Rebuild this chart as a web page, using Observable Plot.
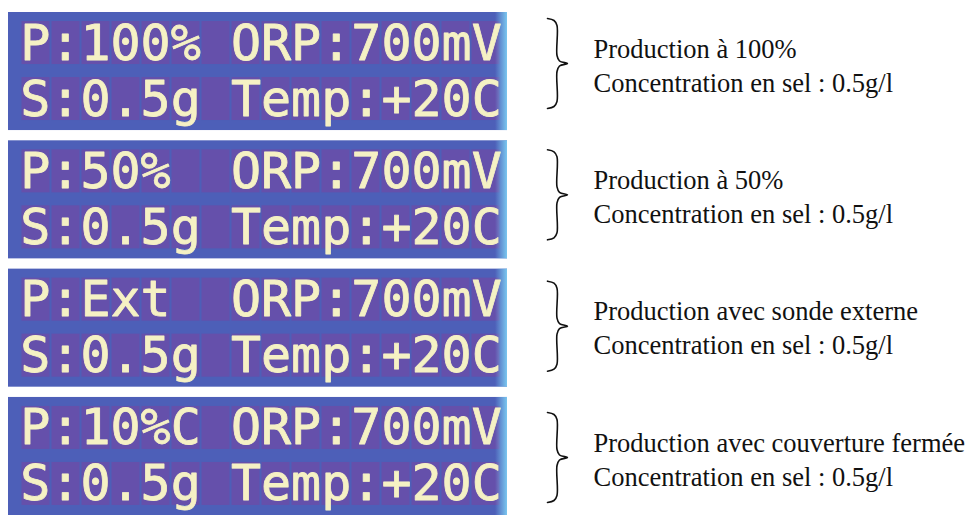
<!DOCTYPE html>
<html>
<head>
<meta charset="utf-8">
<script src="https://cdn.jsdelivr.net/npm/d3@7"></script>
<script src="https://cdn.jsdelivr.net/npm/@observablehq/plot@0.6"></script>
<style>
  html, body { margin: 0; padding: 0; background: #ffffff; }
  #chart svg { display: block; white-space: pre; }
</style>
</head>
<body>
<div id="chart"></div>
<script>
// ---- data ----
const panels = [0, 1, 2, 3];
const lcdRow1 = ["P:100% ORP:700mV", "P:50%  ORP:700mV", "P:Ext  ORP:700mV", "P:10%C ORP:700mV"];
const lcdRow2 = ["S:0.5g Temp:+20C", "S:0.5g Temp:+20C", "S:0.5g Temp:+20C", "S:0.5g Temp:+20C"];
const descriptions = ["Production à 100%", "Production à 50%", "Production avec sonde externe", "Production avec couverture fermée"];
const saltLines = ["Concentration en sel : 0.5g/l", "Concentration en sel : 0.5g/l", "Concentration en sel : 0.5g/l", "Concentration en sel : 0.5g/l"];
const lcdColumns = d3.range(16);
const lcdRows = [0, 1];

// ---- layout ----
const W = 970, H = 516;
const band = Plot.scale({y: {type: "band", domain: panels, range: [12, 515], paddingInner: 0.08, paddingOuter: 0}});
const bw = band.bandwidth;
const mid = i => band.apply(i) + bw / 2;
// annotation groups (braces + text) are laid out on their own point scale
const annot = Plot.scale({y: {type: "point", domain: panels, range: [63, 457], padding: 0}});
const tipY = i => annot.apply(i);

const panelX1 = 8, panelX2 = 507;
const lcdInkLeft = 23, pitch = 30, lcdFont = 50;
const lcdCenterX = lcdInkLeft + pitch * 7.5 + 12.5;
const rowBaseline = r => -12 + 56 * r;   // relative to panel middle

const braceTipX = 567, annotX = 593, annotFont = 26.5;
const braceTemplate = [
  [-20, -45], [-13.5, -43], [-10.5, -38], [-10.5, -8], [-8, -2.5], [0, 0],
  [-8, 2.5], [-10.5, 8], [-10.5, 38], [-13.5, 43], [-20, 45]
];

const cells = panels.flatMap(p => lcdRows.flatMap(r => lcdColumns.map(c => ({p, r, c}))));
const bracePts = panels.flatMap(p => braceTemplate.map(([dx, dy]) => ({p, x: braceTipX + dx, y: tipY(p) + dy})));

const bg = "#4d5fb8", cellFill = "#6a4ea8", ink = "#f5f1c4", glowColor = "#7fd2f5";

const chart = Plot.plot({
  width: W, height: H,
  margin: 0,
  x: {type: "identity", axis: null},
  y: {type: "identity", axis: null},
  style: {background: "#ffffff", fontFamily: "Liberation Serif"},
  marks: [
    // LCD panels
    Plot.rect(panels, {x1: panelX1, x2: panelX2, y1: p => band.apply(p), y2: p => band.apply(p) + bw, fill: bg}),
    // character cells
    Plot.rect(cells, {
      x1: d => lcdInkLeft - 1.5 + pitch * d.c,
      x2: d => lcdInkLeft + 26.5 + pitch * d.c,
      y1: d => mid(d.p) + rowBaseline(d.r) - 38,
      y2: d => mid(d.p) + rowBaseline(d.r) + 5,
      fill: cellFill, fillOpacity: 0.85
    }),
    // right edge glow
    Plot.rect(panels, {x1: panelX2 - 12, x2: panelX2, y1: p => band.apply(p), y2: p => band.apply(p) + bw, fill: glowColor}),
    // LCD text
    Plot.text(panels, {
      x: lcdCenterX, y: p => mid(p) + rowBaseline(0) - 0.32 * lcdFont,
      text: p => lcdRow1[p], fontSize: lcdFont, fontFamily: "DejaVu Sans Mono",
      fill: ink, stroke: ink, strokeWidth: 0.8, textAnchor: "middle", lineAnchor: "middle"
    }),
    Plot.text(panels, {
      x: lcdCenterX, y: p => mid(p) + rowBaseline(1) - 0.32 * lcdFont,
      text: p => lcdRow2[p], fontSize: lcdFont, fontFamily: "DejaVu Sans Mono",
      fill: ink, stroke: ink, strokeWidth: 0.8, textAnchor: "middle", lineAnchor: "middle"
    }),
    // braces
    Plot.line(bracePts, {x: "x", y: "y", z: "p", curve: "catmull-rom", stroke: "#111", strokeWidth: 1.6}),
    // annotations
    Plot.text(panels, {
      x: annotX, y: p => tipY(p) - 6 - 0.32 * annotFont,
      text: p => descriptions[p], fontSize: annotFont, fontFamily: "Liberation Serif",
      fill: "#111", textAnchor: "start", lineAnchor: "middle"
    }),
    Plot.text(panels, {
      x: annotX, y: p => tipY(p) + 28 - 0.32 * annotFont,
      text: p => saltLines[p], fontSize: annotFont, fontFamily: "Liberation Serif",
      fill: "#111", textAnchor: "start", lineAnchor: "middle"
    })
  ]
});

// gradient for right-edge glow
const svg = d3.select(chart);
const defs = svg.insert("defs", ":first-child");
const grad = defs.append("linearGradient").attr("id", "lcdGlow").attr("x1", "0").attr("x2", "1").attr("y1", "0").attr("y2", "0");
grad.append("stop").attr("offset", "0").attr("stop-color", glowColor).attr("stop-opacity", 0);
grad.append("stop").attr("offset", "1").attr("stop-color", glowColor).attr("stop-opacity", 0.9);
svg.selectAll(`[fill="${glowColor}"]`).attr("fill", "url(#lcdGlow)");

document.getElementById("chart").appendChild(chart);
</script>
</body>
</html>
